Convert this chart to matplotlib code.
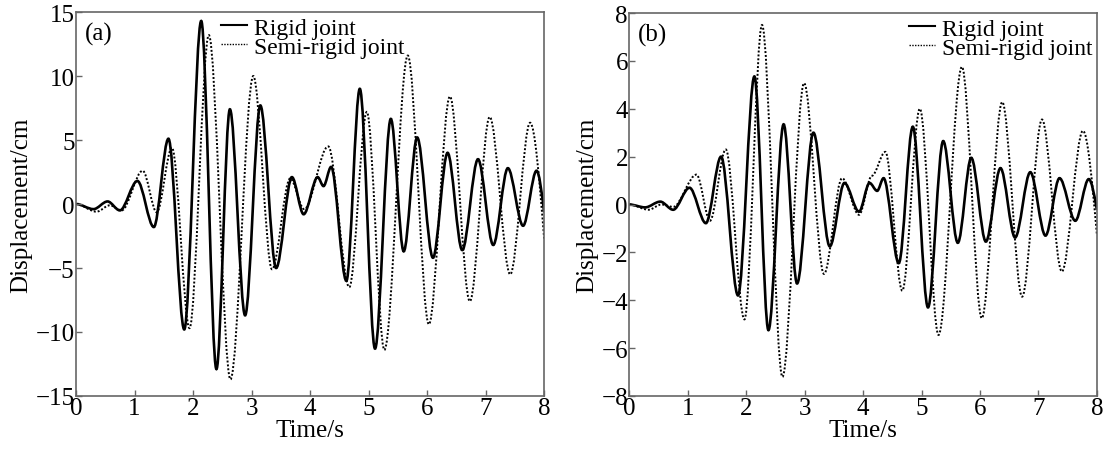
import matplotlib
matplotlib.use("Agg")
import matplotlib.pyplot as plt
from matplotlib.path import Path
from matplotlib.patches import PathPatch
from matplotlib.lines import Line2D

plt.rcParams['font.family'] = ['Liberation Serif', 'DejaVu Serif']
plt.rcParams['font.size'] = 18

# peaks / troughs of the displacement histories (time in s, displacement in cm)
# (a) rigid joint
ta_rigid = [0, 0.30, 0.54, 0.75, 1.05, 1.33, 1.58, 1.85, 2.14, 2.40, 2.63, 2.89,
            3.15, 3.42, 3.69, 3.89, 4.13, 4.23, 4.36, 4.62, 4.85, 5.11, 5.38, 5.60,
            5.83, 6.10, 6.35, 6.60, 6.87, 7.13, 7.38, 7.64, 7.87, 8.0]
ya_rigid = [0, -0.4, 0.2, -0.5, 1.8, -1.8, 5.1, -9.8, 14.3, -12.9, 7.4, -8.7,
            7.7, -5.0, 2.1, -0.8, 2.1, 1.4, 2.9, -6.0, 9.0, -11.3, 6.65, -3.7,
            5.2, -4.2, 4.0, -3.6, 3.5, -3.2, 2.8, -1.7, 2.6, -0.65]
# (a) semi-rigid joint
ta_semi = [0, 0.35, 0.58, 0.78, 1.14, 1.38, 1.64, 1.94, 2.27, 2.64, 3.03, 3.35,
           3.66, 3.90, 4.31, 4.67, 4.97, 5.27, 5.67, 6.03, 6.39, 6.73, 7.07, 7.42,
           7.76, 8.0]
ya_semi = [0, -0.6, -0.1, -0.5, 2.6, -0.65, 4.4, -9.7, 13.2, -13.7, 10.0, -5.1,
           2.0, -0.4, 4.5, -6.5, 7.2, -11.4, 11.6, -9.4, 8.4, -7.6, 6.8, -5.5,
           6.35, -2.7]

# (b) rigid joint
tb_rigid = [0, 0.27, 0.53, 0.75, 1.03, 1.31, 1.57, 1.86, 2.14, 2.38, 2.64, 2.87,
            3.15, 3.43, 3.68, 3.93, 4.11, 4.24, 4.35, 4.61, 4.85, 5.11, 5.37, 5.62,
            5.85, 6.10, 6.35, 6.60, 6.86, 7.12, 7.36, 7.63, 7.86, 8.0]
yb_rigid = [0, -0.12, 0.12, -0.22, 0.7, -0.78, 2.0, -3.8, 5.35, -5.25, 3.35, -3.3,
            3.0, -1.75, 0.9, -0.3, 0.9, 0.57, 1.1, -2.45, 3.25, -4.3, 2.65, -1.6,
            1.95, -1.55, 1.52, -1.38, 1.35, -1.3, 1.1, -0.68, 1.06, -0.22]
# (b) semi-rigid joint
tb_semi = [0, 0.33, 0.55, 0.75, 1.15, 1.38, 1.65, 1.97, 2.27, 2.62, 2.99, 3.33,
           3.64, 3.93, 4.15, 4.38, 4.67, 4.97, 5.29, 5.69, 6.03, 6.38, 6.72, 7.06,
           7.40, 7.76, 8.0]
yb_semi = [0, -0.22, 0.0, -0.1, 1.25, -0.68, 2.3, -4.8, 7.5, -7.2, 5.07, -2.9,
           1.1, -0.43, 1.2, 2.2, -3.6, 4.0, -5.45, 5.75, -4.75, 4.28, -3.85, 3.55,
           -2.8, 3.08, -1.27]


def wave_path(t, y):
    # smooth Bezier segments with flat tangents at each peak/trough
    verts = [(t[0], y[0])]
    codes = [Path.MOVETO]
    n = len(t)
    for i in range(n - 1):
        dt = t[i + 1] - t[i]
        c2y = y[i + 1]
        if i == n - 2:
            # record ends mid-swing, keep the slope going
            c2y = y[i + 1] - 0.5 * (y[i + 1] - y[i])
        verts += [(t[i] + dt / 3, y[i]), (t[i + 1] - dt / 3, c2y), (t[i + 1], y[i + 1])]
        codes += [Path.CURVE4] * 3
    return Path(verts, codes)


fig = plt.figure(figsize=(11.06, 4.52), dpi=100)
ax1 = fig.add_axes([0.0687, 0.1217, 0.4233, 0.8495])
ax2 = fig.add_axes([0.569, 0.1217, 0.4228, 0.8473])

panels = [
    (ax1, ta_rigid, ya_rigid, ta_semi, ya_semi, (-15, 15), [-15, -10, -5, 0, 5, 10, 15], "(a)", 0.275),
    (ax2, tb_rigid, yb_rigid, tb_semi, yb_semi, (-8, 8), [-8, -6, -4, -2, 0, 2, 4, 6, 8], "(b)", 0.563),
]

for ax, tr, yr, ts, ys, ylim, yticks, tag, leg_x in panels:
    ax.add_patch(PathPatch(wave_path(ts, ys), fill=False, color='k', lw=1.4, linestyle=(0, (1, 1))))
    ax.add_patch(PathPatch(wave_path(tr, yr), fill=False, color='k', lw=1.9))
    ax.set_xlim(0, 8)
    ax.set_ylim(*ylim)
    ax.set_xticks(range(9))
    ax.set_yticks(yticks)
    ax.set_xlabel('Time/s', labelpad=0)
    ax.set_ylabel('Displacement/cm', labelpad=2)
    for sp in ax.spines.values():
        sp.set_color('#666666')
        sp.set_linewidth(1.2)
    ax.tick_params(direction='in', length=4, width=1, color='#666666', pad=1)
    ax.text(0.018, 0.975, tag, transform=ax.transAxes, ha='left', va='top')
    handles = [Line2D([], [], color='k', lw=1.5),
               Line2D([], [], color='k', lw=1.0, linestyle=(0, (1, 1)))]
    ax.legend(handles, ['Rigid joint', 'Semi-rigid joint'], loc='upper left',
              bbox_to_anchor=(leg_x, 1.03), frameon=False, handlelength=1.1,
              handletextpad=0.3, labelspacing=-0.1, borderpad=0.2, fontsize=17)

fig.savefig('out.png', dpi=100)
